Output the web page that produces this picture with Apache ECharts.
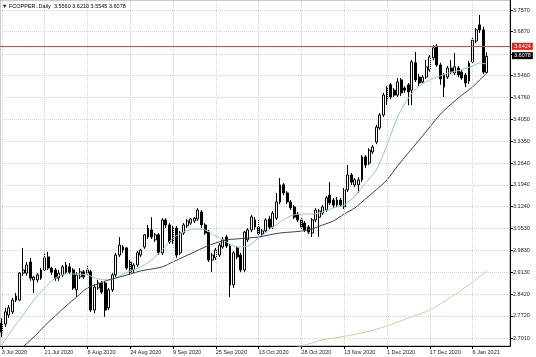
<!DOCTYPE html>
<html><head><meta charset="utf-8">
<script src="https://cdn.jsdelivr.net/npm/echarts@6/dist/echarts.min.js"></script>
<style>html,body{margin:0;padding:0;background:#fff}#c{width:536px;height:357px}</style>
</head><body><div id="c"></div>
<script>
const symbolName = 'FCOPPER..Daily';
const dates = [
'3 Jul 2020','6 Jul 2020','7 Jul 2020','8 Jul 2020','9 Jul 2020','10 Jul 2020','13 Jul 2020','14 Jul 2020','15 Jul 2020','16 Jul 2020','17 Jul 2020','20 Jul 2020','21 Jul 2020','22 Jul 2020','23 Jul 2020','24 Jul 2020','27 Jul 2020','28 Jul 2020','29 Jul 2020','30 Jul 2020','31 Jul 2020',
'3 Aug 2020','4 Aug 2020','5 Aug 2020','6 Aug 2020','7 Aug 2020','10 Aug 2020','11 Aug 2020','12 Aug 2020','13 Aug 2020','14 Aug 2020','17 Aug 2020','18 Aug 2020','19 Aug 2020','20 Aug 2020','21 Aug 2020','24 Aug 2020','25 Aug 2020','26 Aug 2020','27 Aug 2020','28 Aug 2020','31 Aug 2020',
'1 Sep 2020','2 Sep 2020','3 Sep 2020','4 Sep 2020','7 Sep 2020','8 Sep 2020','9 Sep 2020','10 Sep 2020','11 Sep 2020','14 Sep 2020','15 Sep 2020','16 Sep 2020','17 Sep 2020','18 Sep 2020','21 Sep 2020','22 Sep 2020','23 Sep 2020','24 Sep 2020','25 Sep 2020','28 Sep 2020','29 Sep 2020','30 Sep 2020',
'1 Oct 2020','2 Oct 2020','5 Oct 2020','6 Oct 2020','7 Oct 2020','8 Oct 2020','9 Oct 2020','12 Oct 2020','13 Oct 2020','14 Oct 2020','15 Oct 2020','16 Oct 2020','18 Oct 2020','19 Oct 2020','20 Oct 2020','21 Oct 2020','22 Oct 2020','23 Oct 2020','26 Oct 2020','27 Oct 2020','28 Oct 2020','29 Oct 2020','30 Oct 2020',
'2 Nov 2020','3 Nov 2020','4 Nov 2020','5 Nov 2020','6 Nov 2020','9 Nov 2020','10 Nov 2020','11 Nov 2020','12 Nov 2020','13 Nov 2020','16 Nov 2020','17 Nov 2020','18 Nov 2020','19 Nov 2020','20 Nov 2020','23 Nov 2020','24 Nov 2020','25 Nov 2020','26 Nov 2020','27 Nov 2020','30 Nov 2020',
'1 Dec 2020','2 Dec 2020','3 Dec 2020','4 Dec 2020','7 Dec 2020','8 Dec 2020','9 Dec 2020','10 Dec 2020','11 Dec 2020','14 Dec 2020','15 Dec 2020','16 Dec 2020','17 Dec 2020','18 Dec 2020','21 Dec 2020','22 Dec 2020','23 Dec 2020','24 Dec 2020','28 Dec 2020','29 Dec 2020','30 Dec 2020','31 Dec 2020',
'4 Jan 2021','5 Jan 2021','6 Jan 2021','7 Jan 2021','8 Jan 2021','11 Jan 2021','12 Jan 2021'
];
const xTickLabels = ['3 Jul 2020','21 Jul 2020','6 Aug 2020','24 Aug 2020','9 Sep 2020','25 Sep 2020','13 Oct 2020','28 Oct 2020','13 Nov 2020','1 Dec 2020','17 Dec 2020','6 Jan 2021'];
const yTicks = [2.7010,2.7720,2.8420,2.9130,2.9830,3.0530,3.1240,3.1940,3.2640,3.3350,3.4050,3.4760,3.5460,3.6160,3.6870,3.7570];

const opens = [
2.749,2.746,2.775,2.785,2.823,2.823,2.910,2.910,2.946,2.888,
2.888,2.894,2.920,2.962,2.926,2.920,2.894,2.904,2.913,2.930,
2.920,2.856,2.898,2.914,2.910,2.914,2.791,2.862,2.878,2.878,
2.798,2.856,2.904,2.968,2.994,2.991,2.946,2.920,2.936,2.968,
2.994,3.026,3.049,3.017,3.033,2.975,3.081,3.065,3.010,3.055,
2.975,3.039,3.062,3.071,3.078,3.084,3.107,3.065,3.042,2.952,
2.959,2.968,2.994,3.026,2.997,2.872,2.991,2.968,2.920,3.017,
3.049,3.081,3.058,3.036,3.046,3.084,3.058,3.087,3.139,3.194,
3.168,3.139,3.123,3.100,3.081,3.071,3.058,3.039,3.081,3.090,
3.103,3.113,3.161,3.145,3.129,3.145,3.123,3.178,3.226,3.194,
3.194,3.210,3.284,3.264,3.300,3.332,3.377,3.419,3.467,3.516,
3.499,3.483,3.532,3.506,3.516,3.499,3.587,3.541,3.525,3.541,
3.564,3.603,3.641,3.580,3.509,3.541,3.570,3.554,3.570,3.557,
3.548,3.528,3.590,3.657,3.709,3.693,3.5560];
const highs = [
2.765,2.798,2.807,2.830,2.846,2.913,2.991,2.946,2.959,2.901,
2.910,2.926,2.975,2.978,2.930,2.926,2.920,2.936,2.946,2.942,
2.926,2.913,2.926,2.920,2.933,2.920,2.875,2.888,2.885,2.885,
2.862,2.910,2.975,3.026,3.000,2.994,2.952,2.942,2.981,2.988,
3.036,3.065,3.090,3.039,3.039,3.087,3.087,3.071,3.062,3.062,
3.046,3.071,3.084,3.087,3.090,3.119,3.113,3.071,3.049,2.975,
2.991,3.007,3.026,3.033,3.004,2.981,2.997,2.975,3.046,3.055,
3.097,3.090,3.084,3.052,3.087,3.094,3.110,3.168,3.216,3.200,
3.174,3.145,3.129,3.107,3.087,3.078,3.065,3.087,3.119,3.116,
3.129,3.158,3.203,3.152,3.155,3.152,3.184,3.258,3.232,3.216,
3.219,3.290,3.290,3.312,3.322,3.387,3.425,3.490,3.512,3.522,
3.506,3.538,3.538,3.512,3.522,3.596,3.622,3.551,3.548,3.596,
3.612,3.644,3.648,3.587,3.554,3.577,3.596,3.619,3.577,3.564,
3.554,3.593,3.667,3.699,3.741,3.703,3.6210];
const lows = [
2.704,2.736,2.765,2.778,2.817,2.820,2.901,2.901,2.885,2.846,
2.880,2.888,2.915,2.920,2.904,2.885,2.885,2.897,2.907,2.907,
2.856,2.833,2.891,2.891,2.904,2.785,2.781,2.856,2.843,2.769,
2.791,2.849,2.898,2.962,2.975,2.920,2.904,2.910,2.930,2.962,
2.988,3.020,3.020,3.010,2.968,2.968,3.055,3.004,3.004,2.959,
2.968,3.033,3.055,3.065,3.071,3.078,3.055,3.033,2.946,2.914,
2.952,2.962,2.988,2.991,2.833,2.862,2.955,2.913,2.914,3.010,
3.042,3.049,3.030,3.026,3.039,3.052,3.052,3.081,3.132,3.161,
3.132,3.113,3.084,3.074,3.049,3.042,3.036,3.026,3.074,3.026,
3.097,3.107,3.129,3.120,3.123,3.123,3.116,3.171,3.194,3.187,
3.168,3.203,3.248,3.258,3.293,3.325,3.371,3.413,3.451,3.470,
3.477,3.477,3.480,3.490,3.450,3.451,3.525,3.512,3.519,3.535,
3.558,3.596,3.574,3.516,3.477,3.535,3.551,3.548,3.541,3.532,
3.509,3.519,3.583,3.650,3.683,3.551,3.5545];
const closes = [
2.720,2.785,2.798,2.823,2.836,2.910,2.920,2.936,2.894,2.897,
2.904,2.920,2.959,2.926,2.913,2.894,2.910,2.930,2.936,2.913,
2.862,2.904,2.914,2.898,2.920,2.791,2.865,2.878,2.849,2.791,
2.856,2.904,2.968,3.000,2.984,2.926,2.913,2.936,2.975,2.984,
3.033,3.055,3.026,3.033,2.975,3.081,3.065,3.010,3.055,2.968,
3.039,3.065,3.078,3.084,3.087,3.113,3.065,3.039,2.952,2.968,
2.984,3.000,3.017,2.997,2.872,2.975,2.962,2.920,3.042,3.049,
3.091,3.058,3.036,3.046,3.081,3.058,3.103,3.139,3.194,3.168,
3.139,3.120,3.090,3.081,3.058,3.049,3.042,3.081,3.113,3.110,
3.123,3.152,3.136,3.129,3.145,3.129,3.178,3.226,3.203,3.210,
3.210,3.284,3.258,3.306,3.316,3.380,3.419,3.483,3.506,3.477,
3.483,3.525,3.490,3.499,3.493,3.590,3.532,3.522,3.541,3.574,
3.606,3.635,3.580,3.535,3.548,3.570,3.558,3.574,3.548,3.538,
3.522,3.586,3.660,3.693,3.693,3.557,3.6078];

// moving averages: [bar index, value]
const maFast = [[0,2.678],[3,2.730],[6,2.775],[9,2.823],[12,2.862],[15,2.894],[18,2.907],[21,2.907],[24,2.904],[27,2.891],[30,2.888],[33,2.901],[36,2.917],[39,2.930],[42,2.952],[45,2.984],[48,3.023],[51,3.042],[54,3.052],[57,3.049],[60,3.029],[63,3.010],[66,2.994],[69,2.997],[72,3.023],[75,3.049],[78,3.074],[81,3.094],[84,3.100],[87,3.100],[90,3.107],[93,3.120],[96,3.129],[99,3.158],[102,3.200],[105,3.242],[108,3.322],[111,3.413],[114,3.474],[117,3.512],[120,3.532],[123,3.545],[126,3.557],[129,3.564],[132,3.577],[134,3.586],[136,3.583]];
const maSlow = [[0,2.611],[3,2.642],[6,2.673],[9,2.704],[12,2.740],[15,2.772],[18,2.804],[21,2.833],[24,2.862],[27,2.875],[30,2.888],[33,2.897],[36,2.907],[39,2.917],[42,2.923],[45,2.930],[48,2.946],[51,2.962],[54,2.978],[57,2.994],[60,3.007],[63,3.017],[66,3.020],[69,3.023],[72,3.026],[75,3.033],[78,3.039],[81,3.042],[84,3.045],[87,3.052],[90,3.065],[93,3.078],[96,3.100],[99,3.120],[102,3.149],[105,3.178],[108,3.210],[111,3.255],[114,3.297],[117,3.338],[120,3.380],[123,3.422],[126,3.454],[129,3.483],[132,3.509],[134,3.532],[136,3.554]];
const maLong = [[78,2.660],[84,2.675],[90,2.695],[96,2.706],[102,2.720],[108,2.740],[114,2.765],[120,2.791],[126,2.833],[132,2.881],[136,2.917]];
const levelPrice = 3.6424;

const n = closes.length;
const last = n - 1;
const padCats = ['p1','p2','p3','p4','p5','p6'];
const categories = dates.concat(padCats);
const candleData = opens.map((o, i) => [o, closes[i], lows[i], highs[i]]);
const F = 'Liberation Sans';
const FS = 5.5;
const headerText = '\u25BC ' + symbolName + '  ' + [opens[last], highs[last], lows[last], closes[last]].map(v => v.toFixed(4)).join(' ');

const chart = echarts.init(document.getElementById('c'), null, {renderer: 'canvas'});
chart.setOption({
  animation: false,
  backgroundColor: '#ffffff',
  grid: {left: 0, right: 26, top: 0, bottom: 11, show: true, borderColor: '#999', borderWidth: 1, backgroundColor: '#fff', containLabel: false, outerBoundsMode: 'none'},
  graphic: [{type: 'text', left: 2, top: 3, z: 100, style: {text: headerText, font: FS + 'px "' + F + '"', fill: '#000'}}],
  xAxis: {
    type: 'category', data: categories, boundaryGap: true,
    axisLine: {show: true, lineStyle: {color: '#000', width: 1}},
    axisTick: {show: true, alignWithLabel: true, length: 3, lineStyle: {color: '#000'}, interval: (i, v) => xTickLabels.includes(v)},
    axisLabel: {show: true, interval: (i, v) => xTickLabels.includes(v), align: 'left', verticalAlign: 'top', margin: 3, fontSize: FS, fontFamily: F, color: '#222'},
    splitLine: {show: false}
  },
  yAxis: {
    type: 'value', position: 'right', min: 2.6752, max: 3.7892, scale: true,
    axisLine: {show: true, lineStyle: {color: '#000', width: 1}},
    axisTick: {show: true, length: 3, lineStyle: {color: '#000'}, customValues: yTicks},
    axisLabel: {show: true, customValues: yTicks.filter(v => v !== 3.6160), formatter: v => v.toFixed(4), fontSize: FS, fontFamily: F, color: '#222', margin: 3},
    splitLine: {show: true, lineStyle: {color: '#d2d2d2', type: 'dotted', width: 1}}
  },
  series: [
    {
      type: 'line', data: [], z: 0, silent: true,
      markLine: {silent: true, symbol: ['none', 'none'], animation: false,
        label: {show: false},
        lineStyle: {color: '#d2d2d2', type: 'dotted', width: 1},
        data: xTickLabels.map(d => ({xAxis: d}))}
    },
    {
      type: 'candlestick', data: candleData, barWidth: 2.4, z: 2,
      itemStyle: {color: '#ffffff', color0: '#000000', borderColor: '#000000', borderColor0: '#000000', borderWidth: 1},
      markLine: {silent: true, symbol: ['none', 'none'], animation: false,
        data: [
          {yAxis: levelPrice, lineStyle: {color: '#d0503c', width: 1, type: 'solid'},
           label: {show: true, position: 'end', distance: 2, formatter: levelPrice.toFixed(4), color: '#fff', backgroundColor: '#e3231c', padding: [1, 2, 0, 2], fontSize: FS, fontFamily: F}},
          {yAxis: closes[last], lineStyle: {color: 'rgba(0,0,0,0)', width: 1, type: 'solid'},
           label: {show: true, position: 'end', distance: 2, formatter: closes[last].toFixed(4), color: '#fff', backgroundColor: '#000', padding: [1, 2, 0, 2], fontSize: FS, fontFamily: F}}
        ]}
    },
    {type: 'line', data: maFast, z: 3, symbol: 'none', smooth: 0.3, connectNulls: true, lineStyle: {color: '#8fcdb8', width: 1}, silent: true},
    {type: 'line', data: maSlow, z: 3, symbol: 'none', smooth: 0.3, connectNulls: true, lineStyle: {color: '#3a3a6a', width: 1}, silent: true},
    {type: 'line', data: maLong, z: 3, symbol: 'none', smooth: 0.3, connectNulls: true, lineStyle: {color: '#d8c8a2', width: 1}, silent: true}
  ]
});
</script>
</body></html>
